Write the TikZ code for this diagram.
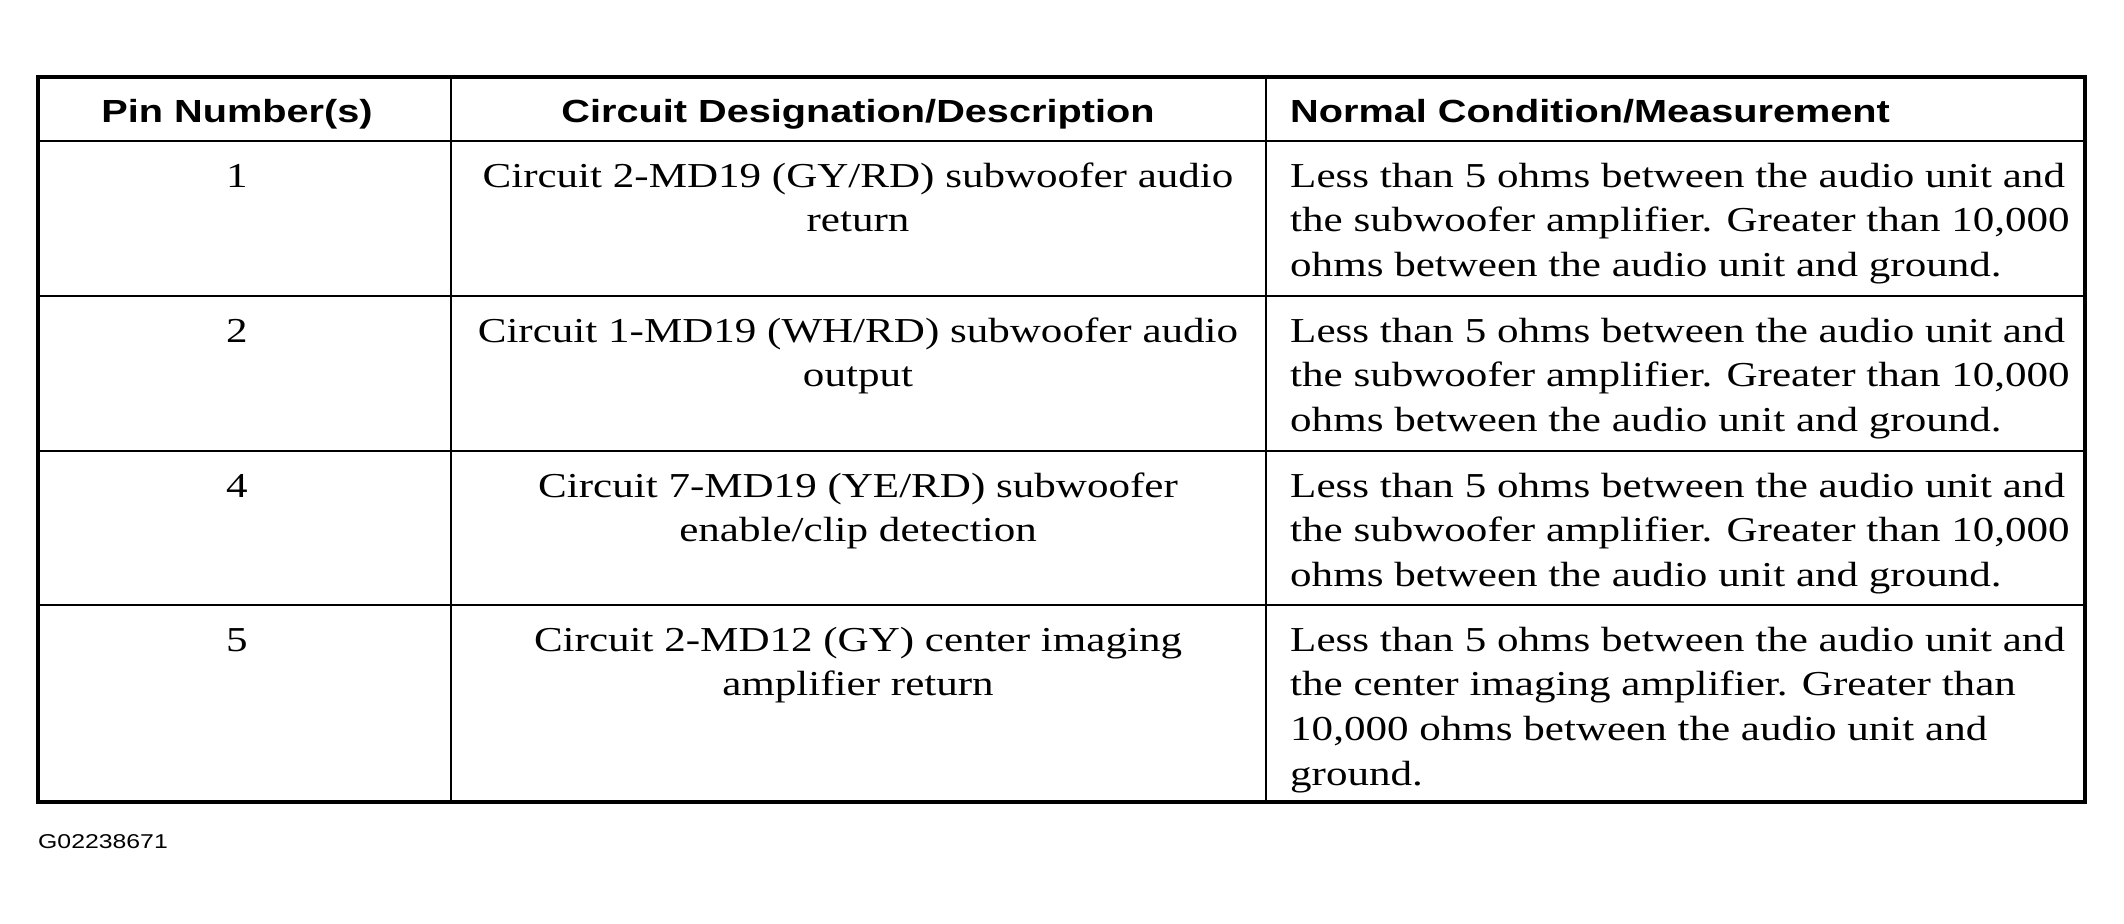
\documentclass[tikz,border=0pt]{standalone}
\usepackage{fontspec}
\setmainfont{Liberation Serif}[FakeStretch=1.23]
\newfontfamily\headfont{Liberation Sans}[FakeStretch=1.24]
\tikzset{
  cell/.style={font=\fontsize{35}{44.7}\selectfont, inner sep=0pt, anchor=north,
    yshift=31.29pt}, % body text, placed at its first baseline (text starts with \strut)
  pin/.style={cell, align=center},
  desc/.style={cell, align=center},
  meas/.style={cell, align=left, anchor=north west},
  head/.style={font=\headfont\bfseries\fontsize{32}{38}\selectfont, inner sep=0pt, anchor=base},
  frame/.style={line width=4pt},
  rule/.style={line width=2.5pt},
  sep/.style={line width=2pt}
}
\begin{document}
\begin{tikzpicture}[x=1pt, y=-1pt]
  \useasboundingbox (0,0) rectangle (2124,923);

  % rules of the table
  \draw[rule] (38,141) -- (2085,141);
  \draw[rule] (38,296) -- (2085,296);
  \draw[rule] (38,451) -- (2085,451);
  \draw[rule] (38,605) -- (2085,605);
  \draw[sep] (451,77) -- (451,802);
  \draw[sep] (1266,77) -- (1266,802);
  \draw[frame] (38,77) rectangle (2085,802);

  % header row
  \node (Hpin) [head] at (237,122) {Pin Number(s)};
  \node (Hdesc) [head] at (858,122) {Circuit Designation/Description};
  \node (Hmeas) [head, anchor=base west] at (1290,122) {Normal Condition/Measurement};

  % pin 1
  \node (Pin1) [pin] at (237,187) {\strut 1};
  \node (Desc1) [desc] at (858,187) {\strut Circuit 2-MD19 (GY/RD) subwoofer audio\\return};
  \node (Meas1) [meas] at (1290,187) {\strut Less than 5 ohms between the audio unit and\\the subwoofer amplifier. Greater than 10,000\\ohms between the audio unit and ground.};

  % pin 2
  \node (Pin2) [pin] at (237,342) {\strut 2};
  \node (Desc2) [desc] at (858,342) {\strut Circuit 1-MD19 (WH/RD) subwoofer audio\\output};
  \node (Meas2) [meas] at (1290,342) {\strut Less than 5 ohms between the audio unit and\\the subwoofer amplifier. Greater than 10,000\\ohms between the audio unit and ground.};

  % pin 4
  \node (Pin4) [pin] at (237,497) {\strut 4};
  \node (Desc4) [desc] at (858,497) {\strut Circuit 7-MD19 (YE/RD) subwoofer\\enable/clip detection};
  \node (Meas4) [meas] at (1290,497) {\strut Less than 5 ohms between the audio unit and\\the subwoofer amplifier. Greater than 10,000\\ohms between the audio unit and ground.};

  % pin 5
  \node (Pin5) [pin] at (237,651) {\strut 5};
  \node (Desc5) [desc] at (858,651) {\strut Circuit 2-MD12 (GY) center imaging\\amplifier return};
  \node (Meas5) [meas] at (1290,651) {\strut Less than 5 ohms between the audio unit and\\the center imaging amplifier. Greater than\\10,000 ohms between the audio unit and\\ground.};

  % figure code
  \node (Gcode) [font=\headfont\fontsize{20}{24}\selectfont, inner sep=0pt, anchor=base west] at (38,848) {G02238671};
\end{tikzpicture}
\end{document}
